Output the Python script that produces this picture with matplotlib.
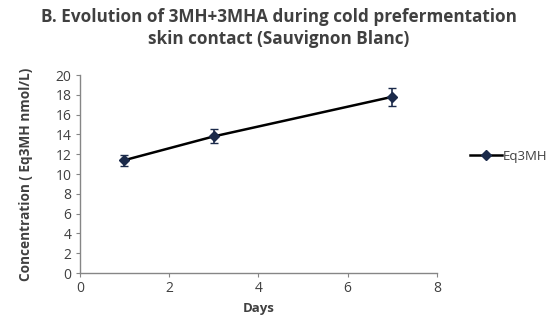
import numpy as np
import matplotlib.pyplot as plt
from matplotlib.lines import Line2D

# Eq3MH concentration over cold skin contact
days = [1, 3, 7]
conc = [11.4, 13.8, 17.8]
err = [0.55, 0.7, 0.9]

plt.rcParams['font.family'] = ['Open Sans', 'DejaVu Sans']
text_col = '#404040'
axis_col = '#868686'
mark_col = '#1b2a4a'

fig = plt.figure(figsize=(5.58, 3.22), dpi=100)
ax = fig.add_axes([0.143, 0.152, 0.64, 0.615])

ax.errorbar(days, conc, yerr=err, color='black', lw=1.8,
            marker='D', ms=5, mfc=mark_col, mec=mark_col,
            ecolor=mark_col, elinewidth=1.2, capsize=3)

ax.set_xlim(0, 8)
ax.set_ylim(0, 20)
ax.set_xticks(np.arange(0, 9, 2))
ax.set_yticks(np.arange(0, 21, 2))

for s in ['top', 'right']:
    ax.spines[s].set_visible(False)
for s in ['left', 'bottom']:
    ax.spines[s].set_color(axis_col)
    ax.spines[s].set_linewidth(1.0)
ax.tick_params(colors=axis_col, labelcolor=text_col, labelsize=10, length=3, pad=3)

ax.set_xlabel('Days', fontsize=9.5, fontweight='bold', color=text_col, labelpad=4)
ax.set_ylabel('Concentration ( Eq3MH nmol/L)', fontsize=9.8, fontweight='bold',
              color=text_col, labelpad=16)

fig.text(0.5, 0.975, 'B. Evolution of 3MH+3MHA during cold prefermentation\nskin contact (Sauvignon Blanc)',
         ha='center', va='top', fontsize=12.3, fontweight='bold', color=text_col,
         linespacing=1.25)

handle = Line2D([], [], color='black', lw=1.8, marker='D', ms=5,
                mfc=mark_col, mec=mark_col)
leg = ax.legend([handle], ['Eq3MH'], loc='center left', bbox_to_anchor=(1.06, 0.59),
                frameon=False, fontsize=9.5, handlelength=2.4, handletextpad=0.1)
for t in leg.get_texts():
    t.set_color(text_col)

fig.savefig('out.png', dpi=100)
